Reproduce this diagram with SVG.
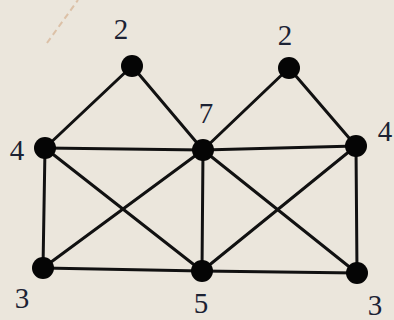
<svg xmlns="http://www.w3.org/2000/svg" width="394" height="320" viewBox="0 0 394 320">
<style>
.e{stroke:#111;stroke-width:3;fill:none;stroke-linecap:round}
.n{fill:#050505}
.t{font-family:"Liberation Serif","Times New Roman",serif;font-size:29px;fill:#1c2233;text-anchor:middle}
</style>
<rect width="394" height="320" fill="#ebe6dc"/>
<line x1="47" y1="43" x2="78" y2="0" stroke="#d9b89a" stroke-width="2" stroke-dasharray="6 4" opacity="0.8"/>
<g id="edges">
<line class="e" x1="132" y1="66" x2="45" y2="148"/>
<line class="e" x1="132" y1="66" x2="203" y2="150"/>
<line class="e" x1="289" y1="68" x2="203" y2="150"/>
<line class="e" x1="289" y1="68" x2="356" y2="146"/>
<line class="e" x1="45" y1="148" x2="203" y2="150"/>
<line class="e" x1="203" y1="150" x2="356" y2="146"/>
<line class="e" x1="45" y1="148" x2="43" y2="268"/>
<line class="e" x1="45" y1="148" x2="202" y2="271"/>
<line class="e" x1="203" y1="150" x2="43" y2="268"/>
<line class="e" x1="203" y1="150" x2="202" y2="271"/>
<line class="e" x1="203" y1="150" x2="357" y2="273"/>
<line class="e" x1="356" y1="146" x2="202" y2="271"/>
<line class="e" x1="356" y1="146" x2="357" y2="273"/>
<line class="e" x1="43" y1="268" x2="202" y2="271"/>
<line class="e" x1="202" y1="271" x2="357" y2="273"/>
</g>
<g id="n1"><circle class="n" cx="132" cy="66" r="11"/><text class="t" x="121" y="39">2</text></g>
<g id="n2"><circle class="n" cx="289" cy="68" r="11"/><text class="t" x="285" y="45">2</text></g>
<g id="n3"><circle class="n" cx="45" cy="148" r="11"/><text class="t" x="17" y="160">4</text></g>
<g id="n4"><circle class="n" cx="203" cy="150" r="11"/><text class="t" x="206" y="123">7</text></g>
<g id="n5"><circle class="n" cx="356" cy="146" r="11"/><text class="t" x="385" y="141">4</text></g>
<g id="n6"><circle class="n" cx="43" cy="268" r="11"/><text class="t" x="22" y="308">3</text></g>
<g id="n7"><circle class="n" cx="202" cy="271" r="11"/><text class="t" x="201" y="313">5</text></g>
<g id="n8"><circle class="n" cx="357" cy="273" r="11"/><text class="t" x="375" y="315">3</text></g>
</svg>
